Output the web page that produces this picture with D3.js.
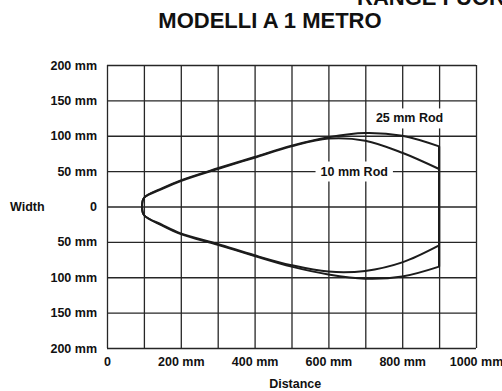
<!DOCTYPE html>
<html>
<head>
<meta charset="utf-8">
<script src="https://cdn.jsdelivr.net/npm/d3@7"></script>
<style>
  html, body { margin: 0; padding: 0; background: #fff; }
  svg { display: block; }
  text { font-family: "Liberation Sans", Arial, Helvetica, sans-serif; fill: #111; }
</style>
</head>
<body>
<svg id="chart" width="502" height="391"></svg>
<script>
// Detection envelope for the 1 m models: distance (mm) vs. width (mm)
const distances = [95, 100, 150, 200, 300, 400, 500, 600, 700, 800, 900];

const rod25Upper = [0, 12, 26, 37, 54, 70, 86, 98, 104, 100, 85];
const rod25Lower = [0, -12, -27, -39, -54, -70, -85, -96, -102, -99, -85];
const rod10Upper = [0, 12, 25, 36, 53, 69, 85, 96, 93, 76, 53];
const rod10Lower = [0, -12, -26, -38, -53, -69, -83, -92, -91, -79, -55];

const xGridTicks = [0, 100, 200, 300, 400, 500, 600, 700, 800, 900, 1000];
const xLabelTicks = [0, 200, 400, 600, 800, 1000];
const xTickLabels = ["0", "200 mm", "400 mm", "600 mm", "800 mm", "1000 mm"];
const yTicks = [200, 150, 100, 50, 0, -50, -100, -150, -200];
const yTickLabels = ["200 mm", "150 mm", "100 mm", "50 mm", "0", "50 mm", "100 mm", "150 mm", "200 mm"];

const curveLabels = [
  { text: "25 mm Rod", x: 820, y: 125 },
  { text: "10 mm Rod", x: 670, y: 50 }
];

const svg = d3.select("#chart");
const margin = { left: 107, right: 26, top: 65, bottom: 43 };
const W = 502, H = 391;
const innerW = W - margin.left - margin.right;
const innerH = H - margin.top - margin.bottom;

const x = d3.scaleLinear().domain([0, 1000]).range([margin.left, margin.left + innerW]);
const y = d3.scaleLinear().domain([-200, 200]).range([margin.top + innerH, margin.top]);

// Header lines
svg.append("text")
  .attr("x", 357).attr("y", 5)
  .attr("font-size", 22).attr("font-weight", "bold")
  .text("RANGE FUORI");
svg.append("text")
  .attr("x", 270).attr("y", 28)
  .attr("text-anchor", "middle")
  .attr("font-size", 22).attr("font-weight", "bold")
  .text("MODELLI A 1 METRO");

// Grid: vertical lines every 100 mm, horizontal every 50 mm
const gridColor = "#262626";
const xGrid = svg.append("g")
  .attr("transform", `translate(0,${margin.top + innerH})`)
  .call(d3.axisBottom(x).tickValues(xGridTicks).tickSize(-innerH).tickFormat(""));
xGrid.select(".domain").remove();
xGrid.selectAll("line").attr("stroke", gridColor).attr("stroke-width", 1.3);

const yGrid = svg.append("g")
  .attr("transform", `translate(${margin.left},0)`)
  .call(d3.axisLeft(y).tickValues(yTicks).tickSize(-innerW).tickFormat(""));
yGrid.select(".domain").remove();
yGrid.selectAll("line").attr("stroke", gridColor).attr("stroke-width", 1.3);

// Tick labels
const xAxis = svg.append("g")
  .attr("transform", `translate(0,${margin.top + innerH})`)
  .call(d3.axisBottom(x).tickValues(xLabelTicks).tickSize(0).tickPadding(9)
    .tickFormat((d, i) => xTickLabels[i]));
xAxis.select(".domain").remove();
xAxis.selectAll("text")
  .attr("font-size", 12.5).attr("font-weight", "bold")
  .style("font-family", "'Liberation Sans', Arial, sans-serif").attr("fill", "#111");

const yAxis = svg.append("g")
  .attr("transform", `translate(${margin.left},0)`)
  .call(d3.axisLeft(y).tickValues(yTicks).tickSize(0).tickPadding(10)
    .tickFormat((d, i) => yTickLabels[i]));
yAxis.select(".domain").remove();
yAxis.selectAll("text")
  .attr("font-size", 12.5).attr("font-weight", "bold")
  .style("font-family", "'Liberation Sans', Arial, sans-serif").attr("fill", "#111");

// Axis titles
svg.append("text")
  .attr("x", 10).attr("y", y(0)).attr("dy", "0.35em")
  .attr("font-size", 12.5).attr("font-weight", "bold")
  .text("Width");
svg.append("text")
  .attr("x", x(510)).attr("y", 388)
  .attr("text-anchor", "middle")
  .attr("font-size", 12.5).attr("font-weight", "bold")
  .text("Distance");

// Envelope outlines: upper branch from the far end back to the tip, then the lower branch out again
const outline = d3.line()
  .x(d => x(d[0]))
  .y(d => y(d[1]))
  .curve(d3.curveCatmullRom.alpha(0.5));

const curveColor = "#1c1c1c";
function drawEnvelope(upper, lower) {
  const pts = [];
  for (let i = distances.length - 1; i >= 1; i--) pts.push([distances[i], upper[i]]);
  pts.push([distances[0], upper[0]]);
  for (let i = 1; i < distances.length; i++) pts.push([distances[i], lower[i]]);
  svg.append("path")
    .datum(pts)
    .attr("d", outline)
    .attr("fill", "none")
    .attr("stroke", curveColor)
    .attr("stroke-width", 2)
    .attr("stroke-linejoin", "round");
}
drawEnvelope(rod25Upper, rod25Lower);
drawEnvelope(rod10Upper, rod10Lower);

// Closing edge at the far end of the range
const last = distances.length - 1;
svg.append("line")
  .attr("x1", x(distances[last])).attr("x2", x(distances[last]))
  .attr("y1", y(rod25Upper[last])).attr("y2", y(rod25Lower[last]))
  .attr("stroke", curveColor).attr("stroke-width", 2.2);

// Curve labels on white boxes
curveLabels.forEach(l => {
  const g = svg.append("g");
  const t = g.append("text")
    .attr("x", x(l.x)).attr("y", y(l.y)).attr("dy", "0.35em")
    .attr("text-anchor", "middle")
    .attr("font-size", 12.5).attr("font-weight", "bold")
    .text(l.text);
  const bb = t.node().getBBox();
  g.insert("rect", "text")
    .attr("x", bb.x - 5).attr("y", bb.y - 3)
    .attr("width", bb.width + 10).attr("height", bb.height + 6)
    .attr("fill", "#fff");
});
</script>
</body>
</html>
